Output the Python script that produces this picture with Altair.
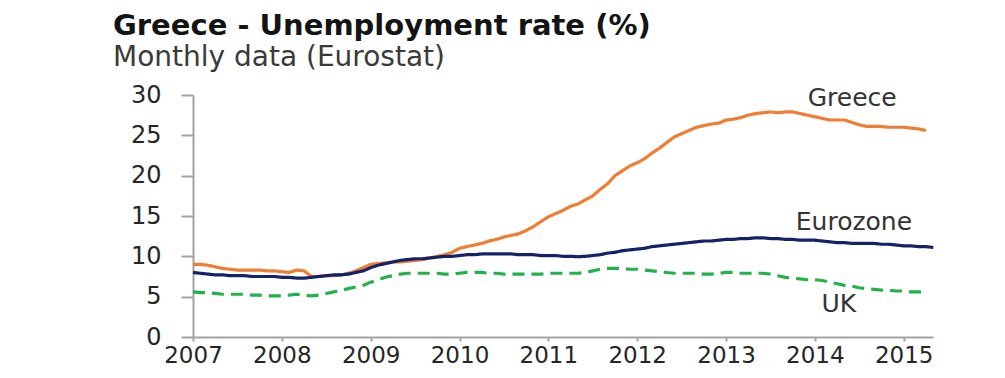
import altair as alt
import pandas as pd

# Monthly unemployment rates (%), starting Jan 2007
greece = [
    9.0, 9.0, 8.9, 8.7, 8.5, 8.4, 8.3, 8.3, 8.3, 8.3, 8.2, 8.2,          # 2007
    8.1, 8.0, 8.3, 8.2, 7.5, 7.5, 7.6, 7.6, 7.7, 7.9, 8.2, 8.6,          # 2008
    9.0, 9.1, 9.2, 9.3, 9.3, 9.4, 9.5, 9.6, 9.8, 10.0, 10.2, 10.5,       # 2009
    11.0, 11.2, 11.4, 11.6, 11.9, 12.1, 12.4, 12.6, 12.8, 13.2, 13.7, 14.3,  # 2010
    14.9, 15.3, 15.7, 16.2, 16.5, 17.0, 17.5, 18.3, 19.0, 20.0, 20.6, 21.2,  # 2011
    21.6, 22.1, 22.8, 23.4, 24.1, 24.8, 25.2, 25.6, 26.0, 26.2, 26.4, 26.5,  # 2012
    26.9, 27.0, 27.2, 27.5, 27.7, 27.8, 27.9, 27.8, 27.9, 27.9, 27.7, 27.5,  # 2013
    27.3, 27.1, 26.9, 26.9, 26.9, 26.6, 26.3, 26.1, 26.1, 26.1, 26.0, 26.0,  # 2014
    26.0, 25.9, 25.8, 25.6,                                              # 2015
]
eurozone = [
    8.0, 7.9, 7.8, 7.7, 7.7, 7.6, 7.6, 7.6, 7.5, 7.5, 7.5, 7.5,
    7.4, 7.4, 7.3, 7.3, 7.4, 7.5, 7.6, 7.7, 7.7, 7.8, 8.0, 8.2,
    8.6, 8.9, 9.1, 9.3, 9.5, 9.6, 9.7, 9.7, 9.8, 9.9, 10.0, 10.0,
    10.1, 10.2, 10.2, 10.3, 10.3, 10.3, 10.3, 10.3, 10.2, 10.2, 10.2, 10.1,
    10.1, 10.1, 10.0, 10.0, 9.95, 10.0, 10.1, 10.2, 10.4, 10.5, 10.7, 10.8,
    10.9, 11.0, 11.2, 11.3, 11.4, 11.5, 11.6, 11.7, 11.8, 11.9, 11.9, 12.0,
    12.1, 12.1, 12.2, 12.2, 12.3, 12.3, 12.2, 12.2, 12.1, 12.1, 12.0, 12.0,
    12.0, 11.9, 11.8, 11.7, 11.7, 11.6, 11.6, 11.6, 11.6, 11.5, 11.5, 11.4,
    11.3, 11.3, 11.2, 11.2, 11.1,
]
uk = [
    5.6, 5.5, 5.5, 5.4, 5.3, 5.3, 5.3, 5.3, 5.2, 5.2, 5.1, 5.1,
    5.1, 5.2, 5.3, 5.2, 5.1, 5.2, 5.4, 5.6, 5.8, 6.0, 6.2, 6.4,
    6.8, 7.1, 7.4, 7.6, 7.8, 7.9, 7.9, 7.9, 7.9, 7.9, 7.8, 7.8,
    7.9, 8.0, 8.0, 8.0, 7.9, 7.9, 7.8, 7.8, 7.8, 7.8, 7.8, 7.8,
    7.9, 7.9, 7.9, 7.9, 7.9, 8.0, 8.2, 8.4, 8.5, 8.5, 8.5, 8.4,
    8.4, 8.3, 8.2, 8.1, 8.0, 7.9, 7.9, 7.9, 7.9, 7.8, 7.8, 7.9,
    8.0, 8.0, 7.9, 7.9, 7.9, 7.9, 7.8, 7.6, 7.4, 7.3, 7.2, 7.1,
    7.1, 7.0, 6.8, 6.6, 6.4, 6.3, 6.1, 6.0, 5.9, 5.8, 5.8, 5.7,
    5.7, 5.6, 5.6, 5.6,
]

series_names = ["Greece", "Eurozone", "UK"]
series_colors = ["#F07D32", "#14226A", "#22B24C"]
series_dash = [[1, 0], [1, 0], [12, 7]]

year_ticks = list(range(2007, 2016))
rate_ticks = [0, 5, 10, 15, 20, 25, 30]

# Series label annotations (year, rate)
label_text = ["Greece", "Eurozone", "UK"]
label_year = [2014.42, 2014.44, 2014.27]
label_rate = [29.6, 14.25, 4.1]

START_YEAR = 2007


def frame(name, vals):
    return pd.DataFrame({
        "t": [START_YEAR + i / 12 for i in range(len(vals))],
        "rate": vals,
        "series": name,
    })


df = pd.concat([frame("Greece", greece), frame("Eurozone", eurozone), frame("UK", uk)],
               ignore_index=True)
labels = pd.DataFrame({"text": label_text, "t": label_year, "rate": label_rate})

FONT = "DejaVu Sans"
AXIS_GRAY = "#A3A3A3"

x = alt.X("t:Q",
          scale=alt.Scale(domain=[2007, 2015.33], nice=False, zero=False),
          axis=alt.Axis(values=year_ticks, format="d", title=None,
                        domainColor=AXIS_GRAY, domainWidth=2,
                        tickColor=AXIS_GRAY, tickWidth=2, tickSize=4,
                        labelFont=FONT, labelFontSize=23, labelColor="#262626",
                        labelPadding=3, grid=False, labelFlush=False,
                        labelOverlap=False))
y = alt.Y("rate:Q",
          scale=alt.Scale(domain=[0, 30], nice=False),
          axis=alt.Axis(values=rate_ticks, title=None,
                        domainColor=AXIS_GRAY, domainWidth=2,
                        tickColor=AXIS_GRAY, tickWidth=2, tickSize=12,
                        labelFont=FONT, labelFontSize=24, labelColor="#262626",
                        labelPadding=20, grid=False))

lines = alt.Chart(df).mark_line(strokeWidth=3.2).encode(
    x=x, y=y,
    color=alt.Color("series:N", scale=alt.Scale(domain=series_names, range=series_colors),
                    legend=None),
    strokeDash=alt.StrokeDash("series:N",
                              scale=alt.Scale(domain=series_names, range=series_dash),
                              legend=None),
    detail="series:N",
)

text = alt.Chart(labels).mark_text(font=FONT, fontSize=25, color="#333333",
                                   align="center", baseline="middle").encode(
    x=alt.X("t:Q"), y=alt.Y("rate:Q"), text="text:N")

chart = alt.layer(lines, text).properties(
    width=740,
    height=242,
    autosize=alt.AutoSizeParams(type="none"),
    padding={"left": 185, "top": 87, "right": 60, "bottom": 33},
    background="white",
    title=alt.TitleParams(
        text="Greece - Unemployment rate (%)",
        subtitle="Monthly data (Eurostat)",
        anchor="start", frame="group", dx=-80, offset=11,
        font=FONT, fontSize=29, fontWeight="bold", color="#141414",
        subtitleFont=FONT, subtitleFontSize=28, subtitleColor="#3A3A3A",
        subtitlePadding=3,
    ),
).configure_view(stroke=None)

chart.save("out.html", embed_options={"renderer": "svg", "actions": False})
